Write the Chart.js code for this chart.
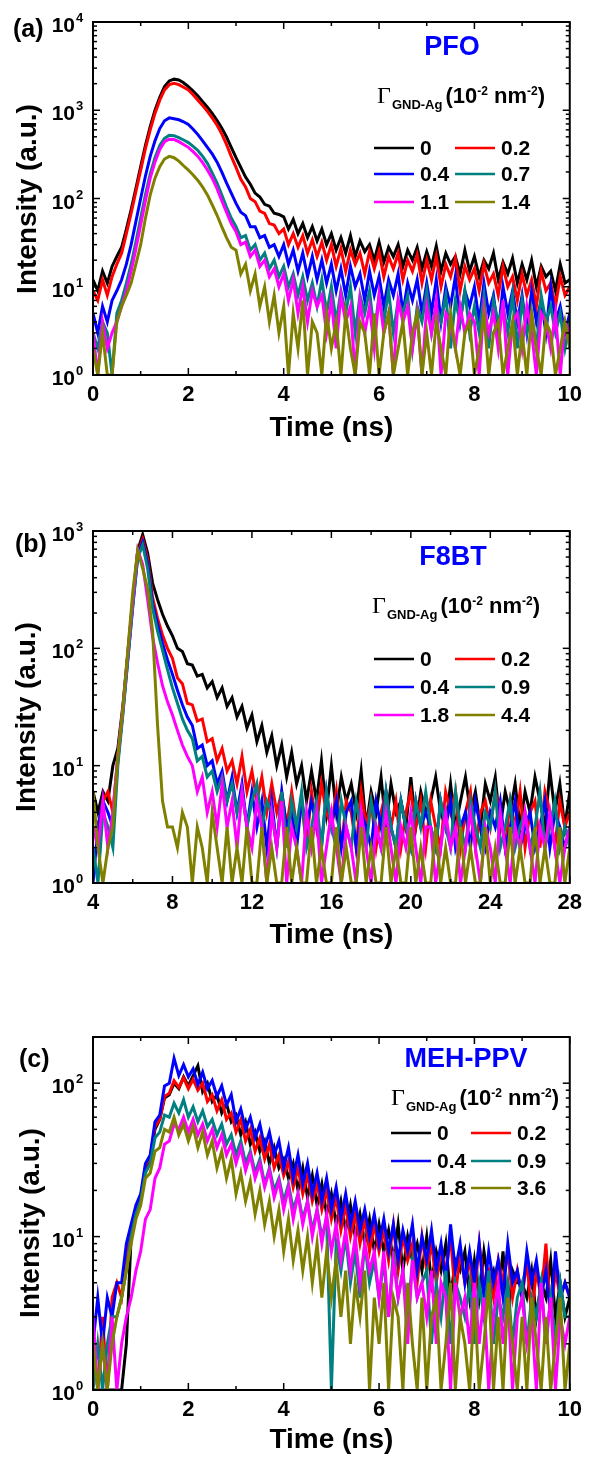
<!DOCTYPE html>
<html>
<head>
<meta charset="utf-8">
<script src="https://cdn.jsdelivr.net/npm/chart.js@4.4.1/dist/chart.umd.min.js"></script>
<style>
  html, body { margin: 0; padding: 0; background: #fff; }
  body { width: 589px; height: 1459px; position: relative; overflow: hidden; }
  canvas { position: absolute; left: 0; }
</style>
</head>
<body>
<canvas id="chartA" width="589" height="470" style="top:0px"></canvas>
<canvas id="chartB" width="589" height="490" style="top:470px"></canvas>
<canvas id="chartC" width="589" height="499" style="top:960px"></canvas>
<script>
"use strict";

// ---- data: time axes (ns)
const timeA = [0,0.1,0.2,0.3,0.4,0.5,0.6,0.7,0.8,0.9,1,1.1,1.2,1.3,1.4,1.5,1.6,1.7,1.8,1.9,
  2,2.1,2.2,2.3,2.4,2.5,2.6,2.7,2.8,2.9,3,3.1,3.2,3.3,3.4,3.5,3.6,3.7,3.8,3.9,
  4,4.1,4.2,4.3,4.4,4.5,4.6,4.7,4.8,4.9,5,5.1,5.2,5.3,5.4,5.5,5.6,5.7,5.8,5.9,
  6,6.1,6.2,6.3,6.4,6.5,6.6,6.7,6.8,6.9,7,7.1,7.2,7.3,7.4,7.5,7.6,7.7,7.8,7.9,
  8,8.1,8.2,8.3,8.4,8.5,8.6,8.7,8.8,8.9,9,9.1,9.2,9.3,9.4,9.5,9.6,9.7,9.8,9.9,10];
const timeB = [4,4.25,4.5,4.75,5,5.25,5.5,5.75,6,6.25,6.5,6.75,7,7.25,7.5,7.75,
  8,8.25,8.5,8.75,9,9.25,9.5,9.75,10,10.25,10.5,10.75,11,11.25,11.5,11.75,
  12,12.25,12.5,12.75,13,13.25,13.5,13.75,14,14.25,14.5,14.75,15,15.25,15.5,15.75,
  16,16.25,16.5,16.75,17,17.25,17.5,17.75,18,18.25,18.5,18.75,19,19.25,19.5,19.75,
  20,20.25,20.5,20.75,21,21.25,21.5,21.75,22,22.25,22.5,22.75,23,23.25,23.5,23.75,
  24,24.25,24.5,24.75,25,25.25,25.5,25.75,26,26.25,26.5,26.75,27,27.25,27.5,27.75,28];
const timeC = timeA;

// ---- legend values, Γ GND-Ag (10^-2 nm^-2)
const gammaA = ["0", "0.2", "0.4", "0.7", "1.1", "1.4"];
const gammaB = ["0", "0.2", "0.4", "0.9", "1.8", "4.4"];
const gammaC = ["0", "0.2", "0.4", "0.9", "1.8", "3.6"];

// ---- y tick values (decades)
const yTicksA = [1, 10, 100, 1000, 10000];
const yTicksB = [1, 10, 100, 1000];
const yTicksC = [1, 10, 100];

// ---- (a) PFO counts
const pfo0 = [12,9,15,11,17,22,28,45,75,130,
  230,400,650,1000,1400,1850,2150,2250,2200,2050,
  1850,1650,1450,1250,1080,920,770,630,500,380,
  290,225,175,145,115,104,86,82,68,66,
  62,45,58,40,52,36,48,33,45,30,
  40,26,36,24,38,22,33,25,30,20,
  32,19,28,22,30,17,26,20,28,16,
  25,17,29,15,24,18,22,14,26,15,
  22,13,20,16,24,12,19,14,21,11,
  18,12,20,10,17,13,15,9,18,11,12];
const pfo02 = [9,7,12,8,13,18,24,40,68,120,
  210,370,600,920,1300,1700,1950,2020,1950,1820,
  1700,1500,1300,1130,970,820,680,540,410,300,
  225,165,135,100,92,72,68,52,50,40,
  45,30,40,28,38,24,34,22,32,20,
  30,17,27,15,26,18,24,14,25,16,
  25,13,22,16,24,12,20,15,23,11,
  20,12,22,10,18,13,21,9,17,12,
  16,9,18,11,14,8,17,10,13,7,
  14,8,12,6,15,9,11,6,13,8,10];
const pfo04 = [5,3,6,4,7,9,12,18,30,55,
  100,180,300,450,620,760,820,800,780,740,
  690,610,530,450,380,320,260,200,150,115,
  88,70,64,48,48,36,38,28,30,22,
  30,18,26,15,24,13,22,12,20,11,
  18,9,16,8,17,10,14,7,15,8,
  13,6,12,8,14,5,11,7,12,5,
  11,5,12,4,10,6,13,4,9,6,
  10,4,11,5,8,3,10,5,9,4,
  8,3,9,4,7,3,10,4,6,3,5];
const pfo07 = [3,2,4,3,1,5,7,11,18,32,
  60,110,190,290,400,480,520,515,490,460,
  430,390,350,300,250,195,150,110,80,60,
  48,36,38,26,30,20,24,16,20,13,
  17,10,14,8,13,7,11,6,12,5,
  10,4,9,5,10,3,8,5,9,3,
  8,4,9,3,7,5,8,2,6,4,
  9,3,6,4,8,2,7,4,9,3,
  6,3,8,2,7,4,6,3,8,2,
  7,3,5,2,8,4,6,3,5,2,4];
const pfo11 = [3,1,4,2,3,4,6,9,15,27,
  50,95,170,260,360,440,470,465,440,410,
  380,340,300,255,210,170,130,95,70,52,
  42,30,32,22,26,17,20,13,16,10,
  14,7,12,5,10,4,9,6,8,3,
  7,2,8,4,6,1,7,3,6,2,
  8,3,5,1,7,4,6,2,5,1,
  6,3,7,1,5,4,2,6,3,5,
  4,1,6,3,5,2,7,1,4,5,
  2,6,3,1,5,4,2,5,1,4,3];
const pfo14 = [2,1,3,1,1,4,6,8,11,18,
  30,60,110,170,230,280,300,290,265,235,
  210,185,160,135,110,85,65,48,36,28,
  26,14,18,9,14,6,10,4,8,3,
  6,1,5,2,7,1,4,3,1,5,
  2,4,1,5,2,1,4,3,1,5,
  1,3,5,1,2,4,1,3,5,1,
  3,1,4,2,1,5,2,1,3,4,
  1,2,5,1,3,4,1,2,4,1,
  3,1,5,2,1,4,3,1,2,4,2];

// ---- (b) F8BT counts
const f8bt0 = [6,4,6,5, 10,14,32,90, 250,680,930,650, 360,260,195,155,
  128,100,94,74, 72,58,60,46, 52,38,46,32, 38,26,32,21,
  27,16,22,13, 18,10,15,8, 13,7,10,5, 9,5,11,4,
  10,4,8,5, 7,4,9,3, 6,4,8,3, 7,4,5,3,
  8,3,6,4, 5,8,4,3, 7,3,5,8, 4,6,3,7,
  5,8,3,6, 4,7,3,6, 4,8,5,3, 9,4,7,3, 6];
const f8bt02 = [4,3,5,6, 4,12,30,85, 240,640,850,580, 270,180,130,100,
  82,56,50,34, 33,24,25,16, 17,11,14,9, 11,7,12,6,
  9,5,8,4, 7,4,6,3, 6,3,5,2, 6,3,7,4,
  3,6,2,5, 4,2,6,3, 5,2,4,6, 3,5,2,4,
  6,3,5,2, 5,3,2,6, 4,6,2,4, 6,2,4,5,
  3,6,4,2, 5,3,6,2, 4,5,2,6, 4,2,5,3, 4];
const f8bt04 = [1,3,5,4, 3,11,28,80, 230,610,800,530, 240,160,110,80,
  60,44,33,26, 22,14,15,10, 11,7,9,5, 8,4,7,3,
  6,3,5,2, 5,2,6,3, 4,2,5,3, 5,3,2,6,
  3,5,2,4, 5,2,4,3, 2,5,3,6, 3,2,5,3,
  2,5,3,4, 3,2,5,3, 5,2,3,4, 2,5,3,2,
  4,3,5,2, 3,5,2,3, 4,2,3,5, 2,4,3,2, 3];
const f8bt09 = [2,1,4,3, 2,10,27,78, 225,590,760,480, 220,140,96,66,
  46,34,25,20, 17,11,12,8, 9,6,8,5, 7,4,6,3,
  5,7,3,5, 4,2,6,2, 5,3,6,2, 3,5,2,6,
  3,2,5,3, 2,5,3,2, 5,3,2,6, 3,2,5,3,
  2,5,3,6, 3,2,5,3, 2,6,3,2, 5,3,2,4,
  3,6,2,3, 5,2,3,4, 2,3,6,2, 3,5,2,3, 2];
const f8bt18 = [3,2,5,2, 4,12,30,90, 260,690,520,260, 125,75,48,35,
  27,20,15,12, 10,6,8,4, 6,3,7,3, 5,2,6,3,
  2,5,3,1, 4,2,5,1, 3,2,1,4, 2,4,1,2,
  4,2,1,3, 2,1,4,2, 1,3,2,4, 2,1,3,2,
  4,2,1,3, 3,1,2,4, 2,3,1,2, 4,2,1,3,
  2,1,4,2, 1,3,2,4, 2,1,3,2, 4,2,1,2, 3];
const f8bt44 = [6,2,1,2, 3,12,30,95, 300,680,480,320, 140,22,5,3,
  3,2,4,3, 1,3,2,1, 4,2,1,3, 1,2,1,3,
  1,1,3,1, 2,1,1,3, 1,2,1,1, 3,1,2,1,
  1,3,1,2, 1,1,3,1, 2,1,1,3, 1,2,1,1,
  3,1,2,1, 1,3,1,2, 1,1,3,1, 2,1,1,3,
  1,2,1,1, 3,1,2,1, 1,3,1,2, 1,1,3,1, 2];

// ---- (c) MEH-PPV counts
const meh0 = [1,1,1,1,1,1,1,2,10,14,
  17,28,32,50,58,80,84,100,92,110,
  96,112,130,88,100,76,84,64,74,56,
  62,46,56,40,48,36,42,30,38,28,
  32,24,30,20,28,18,25,16,22,14,
  19,12,17,11,16,10,14,9,13,8,
  12,8,11,7,12,6,10,7,9,6,
  10,5,8,6,9,4,7,6,8,4,
  7,4,8,5,6,4,8,3,6,5,
  5,4,6,3,5,4,7,3,5,3,4];
const meh02 = [2,1,3,1,4,5,4,8,11,15,
  18,29,33,52,58,82,86,104,94,108,
  92,106,90,100,76,84,66,78,58,64,
  48,58,42,50,36,44,32,40,28,34,
  25,31,21,28,19,25,17,22,15,20,
  13,18,11,16,10,14,9,13,8,12,
  8,11,7,12,6,10,7,9,5,10,
  6,9,5,8,6,10,4,8,5,7,
  4,9,5,6,4,7,5,8,4,6,
  4,7,3,6,4,9,3,6,4,5,4];
const meh04 = [2,4,2,4,3,5,5,9,12,16,
  19,30,34,56,62,96,100,145,112,132,
  110,124,98,118,92,104,82,96,72,84,
  56,68,50,60,44,54,38,48,34,42,
  28,38,24,34,22,30,19,26,17,24,
  15,21,13,19,12,17,11,15,10,14,
  9,13,8,12,7,11,8,12,6,10,
  7,11,6,9,5,12,6,9,5,8,
  5,9,4,8,5,7,4,9,5,6,
  4,8,5,7,4,6,3,8,4,5,4];
const meh09 = [1,2,1,2,3,3,4,6,10,14,
  17,26,30,44,48,62,60,74,64,78,
  60,70,56,66,52,58,46,54,40,46,
  34,42,30,36,26,32,22,28,20,24,
  17,22,15,19,13,17,11,15,10,13,
  1,9,6,10,5,8,4,9,5,7,
  4,7,3,8,4,6,3,7,4,5,
  6,2,5,3,6,2,5,4,3,5,
  2,5,3,6,2,4,3,5,2,4,
  5,2,4,3,5,2,4,2,5,3,3];
const meh18 = [3,1,2,1,3,1,2,3,4,6,
  8,13,15,24,28,40,42,54,50,60,
  48,58,46,54,42,50,38,46,34,40,
  30,38,27,34,24,30,21,27,18,23,
  15,21,13,19,12,17,10,15,9,14,
  8,12,7,11,6,10,5,9,6,8,
  4,8,3,7,4,6,2,7,4,5,
  3,6,2,5,4,1,5,3,4,2,
  5,2,4,1,3,5,2,4,1,3,
  4,2,3,1,5,2,4,1,3,2,3];
const meh36 = [2,1,2,1,2,3,4,6,9,13,
  16,24,26,36,38,50,48,60,46,54,
  42,52,38,48,34,42,28,36,24,32,
  19,26,17,23,14,20,12,17,10,15,
  8,13,7,11,6,10,5,9,4,8,
  4,7,3,6,2,5,3,6,1,4,
  2,5,1,4,3,1,5,2,1,4,
  1,3,4,1,2,5,1,3,2,1,
  4,1,2,5,1,3,1,4,2,1,
  3,1,4,2,1,3,1,2,4,1,2];

const COLORS = ["#000000", "#ff0000", "#0000ff", "#008080", "#ff00ff", "#808000"];
const FONT = '"Liberation Sans", Arial, Helvetica, sans-serif';

function line(ctx, x1, y1, x2, y2) {
  ctx.beginPath();
  ctx.moveTo(x1, y1);
  ctx.lineTo(x2, y2);
  ctx.stroke();
}

// frame, inward ticks, y labels, legend and text
const decor = {
  id: "decor",
  afterDraw(chart, args, o) {
    const ctx = chart.ctx;
    const a = chart.chartArea;
    const xs = chart.scales.x, ys = chart.scales.y;
    ctx.save();
    ctx.strokeStyle = "#000";
    ctx.lineWidth = 1.5;
    // x ticks bottom/top
    for (let v = xs.min; v <= xs.max + 1e-9; v += o.xMinor) {
      const px = xs.getPixelForValue(v);
      const major = Math.abs(v / o.xMajor - Math.round(v / o.xMajor)) < 1e-6;
      const len = major ? 7 : 4;
      line(ctx, px, a.bottom, px, a.bottom - len);
      line(ctx, px, a.top, px, a.top + len);
    }
    // y log ticks left/right
    for (let d = 1; d < ys.max; d *= 10) {
      for (let m = 1; m < 10; m++) {
        const v = d * m;
        if (v > ys.max) break;
        const py = ys.getPixelForValue(v);
        const len = m === 1 ? 7 : 4;
        line(ctx, a.left, py, a.left + len, py);
        line(ctx, a.right, py, a.right - len, py);
      }
    }
    // frame
    ctx.lineWidth = 2;
    ctx.strokeRect(a.left, a.top, a.right - a.left, a.bottom - a.top);

    // y tick labels 10^n
    ctx.fillStyle = "#000";
    o.yTicks.forEach(function (v) {
      const py = ys.getPixelForValue(v);
      const e = Math.round(Math.log10(v));
      ctx.font = "bold 21px " + FONT;
      ctx.textAlign = "right";
      ctx.textBaseline = "alphabetic";
      ctx.fillText("10", a.left - 18, py + 10);
      ctx.font = "bold 13px " + FONT;
      ctx.textAlign = "left";
      ctx.fillText(String(e), a.left - 17, py);
    });

    // y title
    ctx.save();
    ctx.translate(o.yTitlePos[0], o.yTitlePos[1]);
    ctx.rotate(-Math.PI / 2);
    ctx.font = "bold 28px " + FONT;
    ctx.textAlign = "center";
    ctx.textBaseline = "middle";
    ctx.fillText("Intensity (a.u.)", 0, 0);
    ctx.restore();

    // panel letter
    ctx.textAlign = "left";
    ctx.textBaseline = "alphabetic";
    ctx.font = "bold 25px " + FONT;
    ctx.fillText(o.letter, o.letterPos[0], o.letterPos[1]);

    // polymer name
    ctx.fillStyle = "#0000ff";
    ctx.font = "bold 27px " + FONT;
    ctx.textAlign = "center";
    ctx.fillText(o.name, o.namePos[0], o.namePos[1]);

    // Γ GND-Ag (10^-2 nm^-2)
    ctx.fillStyle = "#000";
    ctx.textAlign = "left";
    let x = o.gammaPos[0];
    const by = o.gammaPos[1];
    const parts = [
      ["Γ", '24px "Liberation Serif", "Times New Roman", serif', 0, 1],
      ["GND-Ag", "bold 13px " + FONT, 6, 3],
      ["(10", "bold 22px " + FONT, 0, 0],
      ["-2", "bold 12px " + FONT, -8, 0],
      [" nm", "bold 22px " + FONT, 0, 0],
      ["-2", "bold 12px " + FONT, -8, 0],
      [")", "bold 22px " + FONT, 0, 0]
    ];
    parts.forEach(function (p) {
      ctx.font = p[1];
      ctx.fillText(p[0], x, by + p[2]);
      x += ctx.measureText(p[0]).width + p[3];
    });

    // legend, 2 columns x 3 rows
    chart.data.datasets.forEach(function (ds, i) {
      const row = Math.floor(i / 2), col = i % 2;
      const ly = o.legendRows[row];
      const lx = o.legendCols[col];
      ctx.strokeStyle = ds.borderColor;
      ctx.lineWidth = 2.5;
      line(ctx, lx, ly, lx + 40, ly);
      ctx.fillStyle = "#000";
      ctx.font = "bold 21px " + FONT;
      ctx.textBaseline = "middle";
      ctx.fillText(ds.label, lx + 46, ly + 1);
      ctx.textBaseline = "alphabetic";
    });
    ctx.restore();
  }
};

function makePanel(p) {
  const datasets = p.series.map(function (vals, i) {
    return {
      label: p.labels[i],
      data: p.time.map(function (t, j) { return { x: t, y: vals[j] }; }),
      borderColor: COLORS[i],
      backgroundColor: COLORS[i],
      borderWidth: 3,
      pointRadius: 0,
      tension: 0,
      order: p.series.length - i
    };
  });
  return new Chart(document.getElementById(p.canvas), {
    type: "line",
    data: { datasets },
    options: {
      responsive: false,
      animation: false,
      devicePixelRatio: 1,
      layout: { padding: { left: 0, right: 17, top: p.top, bottom: 0 } },
      plugins: {
        legend: { display: false },
        tooltip: { enabled: false },
        decor: p.decor
      },
      scales: {
        x: {
          type: "linear",
          min: p.xMin,
          max: p.xMax,
          grid: { display: false, drawTicks: false },
          border: { display: false },
          ticks: {
            stepSize: p.xStep,
            color: "#000",
            padding: 7,
            maxRotation: 0,
            font: { family: FONT, size: 22, weight: "bold" }
          },
          title: {
            display: true,
            text: "Time (ns)",
            color: "#000",
            font: { family: FONT, size: 28, weight: "bold" },
            padding: { top: 0, bottom: p.xTitlePad }
          },
          afterFit(s) { s.height = p.xHeight; }
        },
        y: {
          type: "logarithmic",
          min: 1,
          max: p.yMax,
          grid: { display: false, drawTicks: false },
          border: { display: false },
          ticks: { display: false },
          afterFit(s) { s.width = 93; }
        }
      }
    },
    plugins: [decor]
  });
}

makePanel({
  canvas: "chartA", time: timeA, labels: gammaA,
  series: [pfo0, pfo02, pfo04, pfo07, pfo11, pfo14],
  top: 22, xHeight: 95, xMin: 0, xMax: 10, xStep: 2, yMax: 10000, xTitlePad: 25,
  decor: {
    xMinor: 1, xMajor: 2, yTicks: yTicksA,
    yTitlePos: [28, 199], letter: "(a)", letterPos: [13, 37],
    name: "PFO", namePos: [452, 55], gammaPos: [377, 103],
    legendRows: [148, 174, 202], legendCols: [374, 455]
  }
});

makePanel({
  canvas: "chartB", time: timeB, labels: gammaB,
  series: [f8bt0, f8bt02, f8bt04, f8bt09, f8bt18, f8bt44],
  top: 61, xHeight: 77, xMin: 4, xMax: 28, xStep: 4, yMax: 1000, xTitlePad: 8,
  decor: {
    xMinor: 2, xMajor: 4, yTicks: yTicksB,
    yTitlePos: [27, 247], letter: "(b)", letterPos: [15, 82],
    name: "F8BT", namePos: [453, 95], gammaPos: [372, 143],
    legendRows: [189, 217, 245], legendCols: [374, 455]
  }
});

makePanel({
  canvas: "chartC", time: timeC, labels: gammaC,
  series: [meh0, meh02, meh04, meh09, meh18, meh36],
  top: 77, xHeight: 69, xMin: 0, xMax: 10, xStep: 2, yMax: 200, xTitlePad: 2,
  decor: {
    xMinor: 1, xMajor: 2, yTicks: yTicksC,
    yTitlePos: [31, 263], letter: "(c)", letterPos: [19, 107],
    name: "MEH-PPV", namePos: [466, 107], gammaPos: [391, 145],
    legendRows: [173, 201, 228], legendCols: [391, 471]
  }
});
</script>
</body>
</html>
